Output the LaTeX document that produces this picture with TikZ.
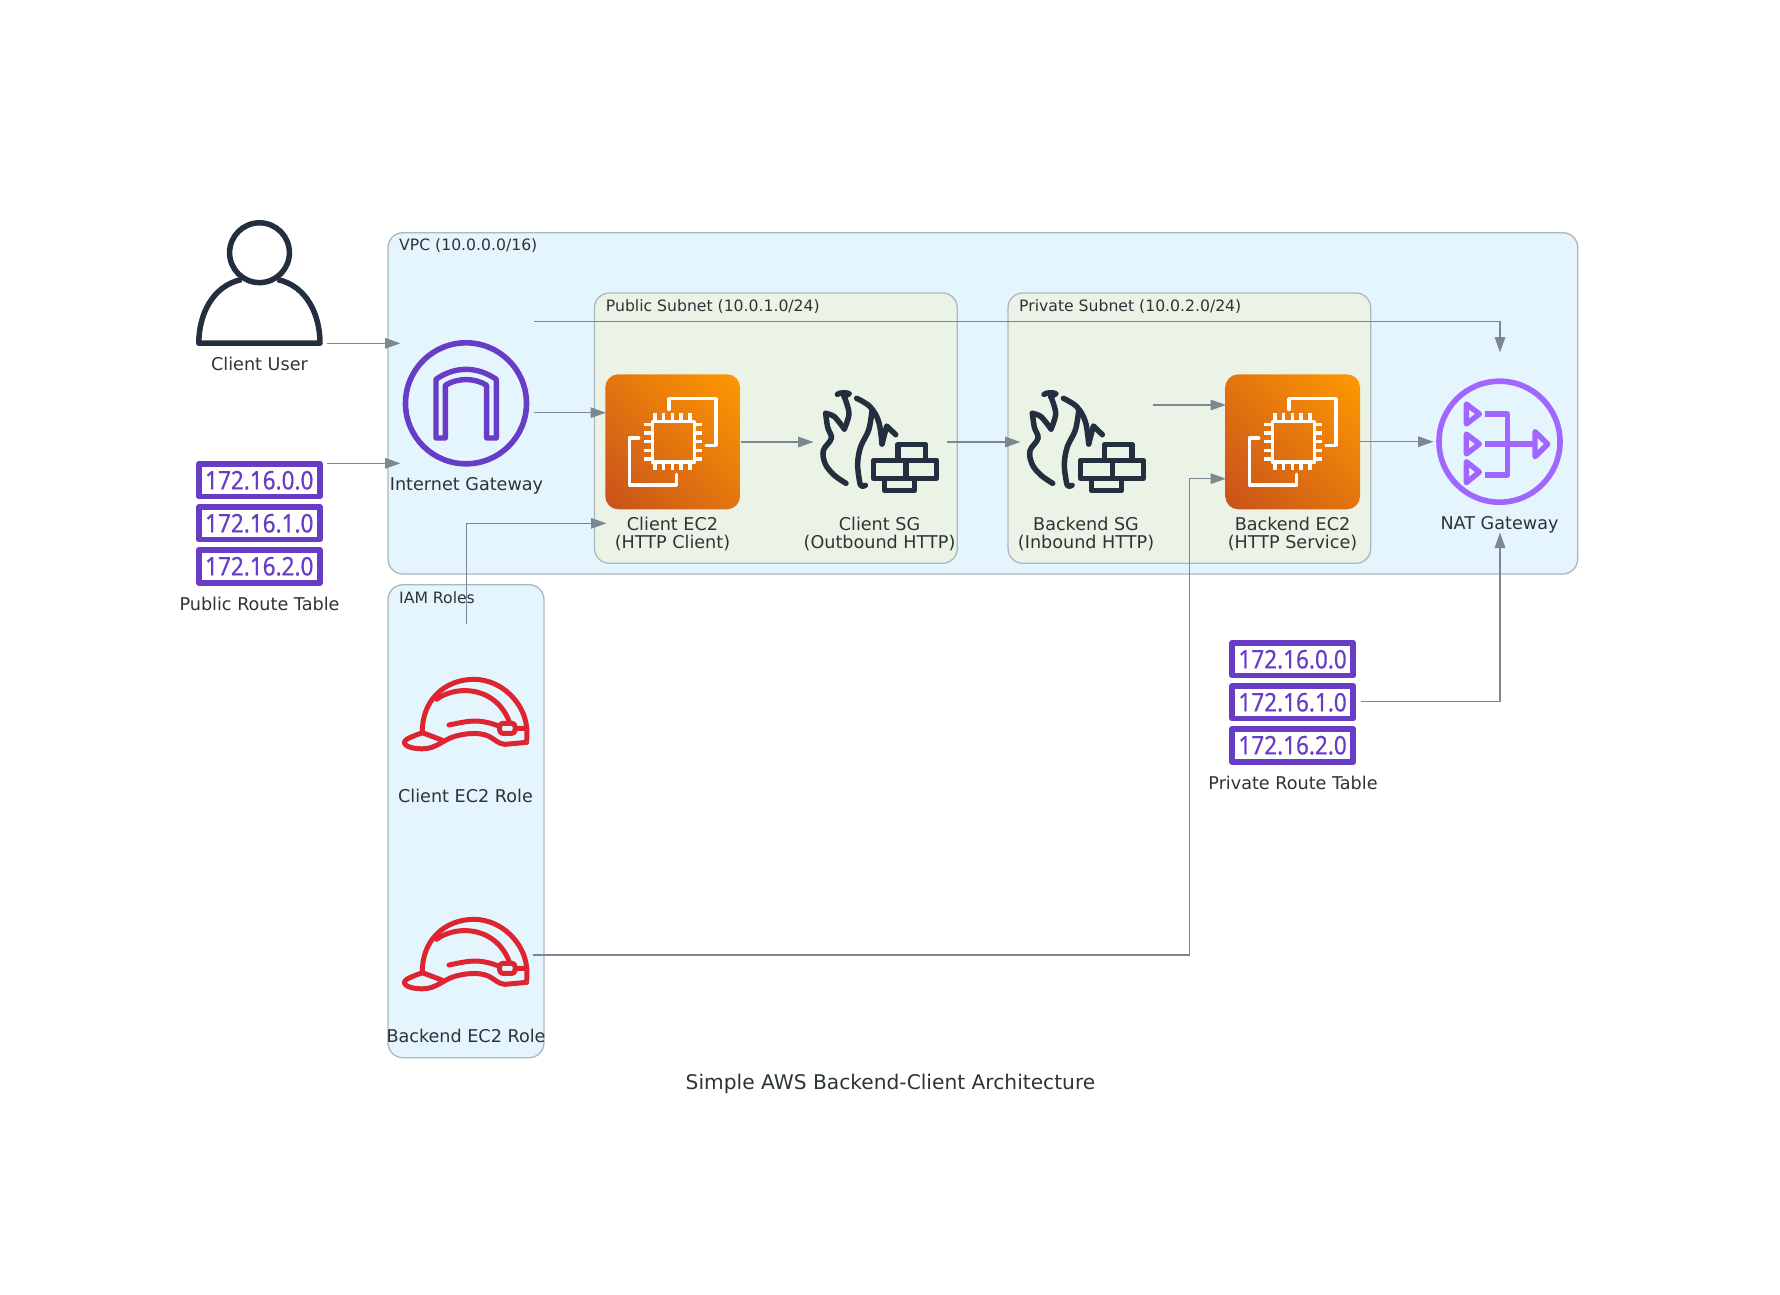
\documentclass[tikz,border=0pt]{standalone}
\usepackage{fontspec}
\setmainfont{DejaVu Sans}
\newfontfamily\rtfont[FakeBold=0.5]{Noto Sans}
\usetikzlibrary{arrows.meta,shadings}
\definecolor{txt}{HTML}{2D3436}
\definecolor{edgec}{HTML}{7B8894}
\definecolor{pen}{HTML}{AEB6BE}
\definecolor{vpcbg}{HTML}{E5F5FD}
\definecolor{subbg}{HTML}{EBF3E7}
\definecolor{navy}{HTML}{232F3E}
\definecolor{purp}{HTML}{693CC5}
\definecolor{natp}{HTML}{A166FF}
\definecolor{helm}{HTML}{DD2531}
\definecolor{ecA}{HTML}{C8511B}
\definecolor{ecB}{HTML}{FF9900}
\definecolor{ecM}{HTML}{E3750F}
\tikzset{
  x=1pt,y=-1pt,
  cluster/.style={draw=pen,line width=1.3pt,rounded corners=15pt},
  clabel/.style={inner sep=0pt,anchor=west,text=txt,font=\fontsize{15.65}{18}\selectfont},
  lab/.style={inner sep=0pt,text=txt,align=center,font=\fontsize{17.6}{18.3}\selectfont},
  conn/.style={draw=edgec,line width=1.3pt,-{Triangle[length=15.5pt,width=10.6pt]}},
  navyline/.style={draw=navy,line width=5.5pt,line cap=round,line join=round},
  ecline/.style={draw=white,line width=3.5pt,line cap=round,line join=round},
  rtbox/.style={draw=purp,line width=5.6pt,line join=round,fill=white},
  helmline/.style={draw=helm,line width=5pt,line cap=round,line join=round},
}
\newcommand{\rttext}[1]{\rtfont\scalebox{.88}[1]{#1}}
% route table: name, left x, top y
\newcommand{\routetable}[3]{%
  \begin{scope}[shift={(#2,#3)}]
    \draw[rtbox] (2.8,2.8) rectangle (123.9,35.5);
    \draw[rtbox] (2.8,46.1) rectangle (123.9,78.5);
    \draw[rtbox] (2.8,88.8) rectangle (123.9,121.9);
    \node[inner sep=0pt,text=purp,font=\fontsize{25.6}{28}\selectfont] (#1a) at (63.3,19.3) {\rttext{172.16.0.0}};
    \node[inner sep=0pt,text=purp,font=\fontsize{25.6}{28}\selectfont] (#1b) at (63.3,62.3) {\rttext{172.16.1.0}};
    \node[inner sep=0pt,text=purp,font=\fontsize{25.6}{28}\selectfont] (#1c) at (63.3,105.3) {\rttext{172.16.2.0}};
  \end{scope}}
% EC2 icon: x shift relative to the client one
\newcommand{\ectwo}[1]{%
  \begin{scope}[shift={(#1,0)}]
    \shade[rounded corners=13pt,lower left=ecA,upper right=ecB,upper left=ecM,lower right=ecM] (605.3,374.3) rectangle (740,509.3);
    \begin{scope}[shift={(590,290)},scale=0.33333]
      \draw[ecline] (187,394) rectangle (314,516);
      \foreach \p in {195,221,247,273,300}{\draw[ecline,line cap=butt] (\p,370) -- (\p,390); \draw[ecline,line cap=butt] (\p,520) -- (\p,540);}
      \foreach \p in {403,429,455,481,507}{\draw[ecline,line cap=butt] (163,\p) -- (183,\p); \draw[ecline,line cap=butt] (318,\p) -- (335,\p);}
      \draw[ecline] (237,358) -- (237,326) -- (378,326) -- (378,466) -- (348,466);
      \draw[ecline] (146,444) -- (118,444) -- (118,585) -- (259,585) -- (259,553);
    \end{scope}
  \end{scope}}
% security group icon
\newcommand{\sgicon}[1]{%
  \begin{scope}[shift={(590+#1,290)},scale=0.33333]
    \draw[navyline] (742,313) .. controls (752,307) and (768,307) .. (778,311) -- (762,320);
    \draw[navyline] plot[smooth,tension=.55] coordinates {(762,318) (777,370) (763,417)};
    \draw[navyline] plot[smooth,tension=.5] coordinates {(763,417) (733,380) (707,370)};
    \draw[navyline] plot[smooth,tension=.6] coordinates {(707,370) (713,412) (724,445) (700,482) (706,522) (732,555) (768,580)};
    \draw[navyline] plot[smooth,tension=.6] coordinates {(800,325) (840,350) (866,395) (876,462)};
    \draw[navyline] (876,462) -- (890,408) -- (917,434);
    \draw[navyline] plot[smooth,tension=.6] coordinates {(846,362) (836,420) (812,470) (803,520) (808,570) (814,588) (826,586)};
    \draw[navyline] (924,463) rectangle (1006,511);
    \draw[navyline] (851,511) rectangle (948,565);
    \draw[navyline] (948,511) rectangle (1040,565);
    \draw[navyline] (884,565) rectangle (974,602);
  \end{scope}}
% role helmet icon
\newcommand{\helmet}[1]{%
  \begin{scope}[shift={(380,660+#1)},scale=0.33333]
    \draw[helmline] (127,218) .. controls (125,120) and (195,58) .. (282,58) .. controls (365,58) and (435,130) .. (440,205);
    \draw[helmline] (170,118) .. controls (195,98) and (235,90) .. (262,92) .. controls (325,95) and (370,135) .. (388,186);
    \draw[helmline] (127,218) .. controls (95,230) and (72,238) .. (73,248) .. controls (75,262) and (110,268) .. (135,266) .. controls (165,264) and (185,245) .. (215,232) .. controls (250,220) and (295,215) .. (325,228) .. controls (345,238) and (355,252) .. (375,253) -- (440,247) -- (441,205) -- (408,205);
    \draw[helmline] (127,218) -- (185,240);
    \draw[helmline] (207,195) .. controls (240,188) and (265,183) .. (285,183) .. controls (310,183) and (335,190) .. (357,198);
    \draw[helmline,rounded corners=3pt] (359,190) rectangle (405,220);
  \end{scope}}
\begin{document}
\begin{tikzpicture}
\useasboundingbox (0,0) rectangle (1780,1294);
\fill[white] (0,0) rectangle (1780,1294);

% clusters
\draw[cluster,fill=vpcbg] (388,232.7) rectangle (1577.7,574);
\node[clabel] (vpclab) at (399,245.8) {VPC (10.0.0.0/16)};
\draw[cluster,fill=vpcbg] (388,584.7) rectangle (544,1057.7);
\node[clabel] (iamlab) at (399,597.5) {IAM Roles};
\draw[cluster,fill=subbg] (594.5,292.9) rectangle (957.3,563.3);
\node[clabel] (publab) at (605.7,306.3) {Public Subnet (10.0.1.0/24)};
\draw[cluster,fill=subbg] (1008,292.9) rectangle (1370.7,563.3);
\node[clabel] (prilab) at (1019,306.3) {Private Subnet (10.0.2.0/24)};

% user
\draw[navyline] (259.5,252.7) circle (29.9);
\draw[navyline,line cap=butt] (241.5,279.5) .. controls (212,286) and (198.8,315) .. (198.8,343.2) -- (320,343.2) .. controls (320,315) and (307,286) .. (277.5,279.5);
\node[lab] (userlab) at (259.5,364) {Client User};

% public route table
\routetable{pub}{196}{461}
\node[lab] (publabel) at (259.5,604) {Public Route Table};

% internet gateway
\draw[draw=purp,line width=5.6pt] (466,403.3) circle (60.5);
\begin{scope}[shift={(170,200)},scale=0.33333]
  \draw[draw=purp,line width=5.4pt,line join=round] (798,714) -- (798,538) .. controls (855,498) and (921,498) .. (979,538) -- (979,714) -- (950,714) -- (950,556) .. controls (915,533) and (862,533) .. (826,556) -- (826,714) -- cycle;
\end{scope}
\node[lab] (igwlab) at (466.5,485.3) {Internet Gateway};

% EC2 and SG
\ectwo{0}
\node[lab] (clientlab) at (672.5,534) {Client EC2\\(HTTP Client)};
\sgicon{0}
\node[lab] (clisglab) at (879.5,534) {Client SG\\(Outbound HTTP)};
\sgicon{206.7}
\node[lab] (baksglab) at (1086,534) {Backend SG\\(Inbound HTTP)};
\ectwo{620}
\node[lab] (bakeclab) at (1292.5,534) {Backend EC2\\(HTTP Service)};

% NAT gateway
\draw[draw=natp,line width=5.6pt] (1499.5,441.7) circle (60.5);
\begin{scope}[shift={(1200,360)},scale=0.33333]
  \tikzset{natline/.style={draw=natp,line width=5.4pt,line join=round}}
  \draw[natline] (799,132) -- (838,162) -- (799,192) -- cycle;
  \draw[natline] (799,222) -- (838,252) -- (799,282) -- cycle;
  \draw[natline] (799,305) -- (838,336) -- (799,368) -- cycle;
  \draw[natline] (855,162) -- (922,162) -- (922,345) -- (855,345);
  \draw[natline] (855,252) -- (1005,252);
  \draw[natline] (1005,215) -- (1043,252) -- (1005,290) -- cycle;
\end{scope}
\node[lab] (natlab) at (1499.5,525) {NAT Gateway};

% private route table
\routetable{pri}{1229.3}{640}
\node[lab] (prilabel) at (1293,783) {Private Route Table};

% helmets
\helmet{0}
\node[lab] (rolecl) at (465.5,796) {Client EC2 Role};
\helmet{240}
\node[lab] (rolebk) at (466,1036) {Backend EC2 Role};

% title
\node[inner sep=0pt,text=txt,font=\fontsize{20.2}{24}\selectfont] (title) at (890.5,1084.3) {Simple AWS Backend-Client Architecture};

% connector ends
\coordinate (userE) at (327,343.3);   \coordinate (igwA) at (400.5,343.3);
\coordinate (rtE) at (327,463.3);     \coordinate (igwB) at (400.5,463.3);
\coordinate (igwE) at (533.5,412.7);  \coordinate (ecW) at (606,412.7);
\coordinate (igwN) at (533.5,321.7);  \coordinate (natN) at (1500,352.5);
\coordinate (roleN) at (466.7,624);   \coordinate (ecS) at (606.5,523.3);
\coordinate (ecE) at (741,442);       \coordinate (sgW) at (813.5,442);
\coordinate (sgE) at (947,442);       \coordinate (bsgW) at (1020.5,442);
\coordinate (bsgE) at (1153.3,405);   \coordinate (becN) at (1226,405);
\coordinate (roleE) at (533.3,955);   \coordinate (becS) at (1226,478.7);
\coordinate (becE) at (1360,441.7);   \coordinate (natW) at (1433.5,441.7);
\coordinate (prtE) at (1360.7,701.7); \coordinate (natS) at (1500,532.5);

\draw[conn] (userE) -- (igwA);
\draw[conn] (rtE) -- (igwB);
\draw[conn] (igwE) -- (ecW);
\draw[conn] (igwN) -| (natN);
\draw[conn] (roleN) |- (ecS);
\draw[conn] (ecE) -- (sgW);
\draw[conn] (sgE) -- (bsgW);
\draw[conn] (bsgE) -- (becN);
\draw[conn] (roleE) -| (1189.3,478.7) -- (becS);
\draw[conn] (becE) -- (natW);
\draw[conn] (prtE) -| (natS);
\end{tikzpicture}
\end{document}
